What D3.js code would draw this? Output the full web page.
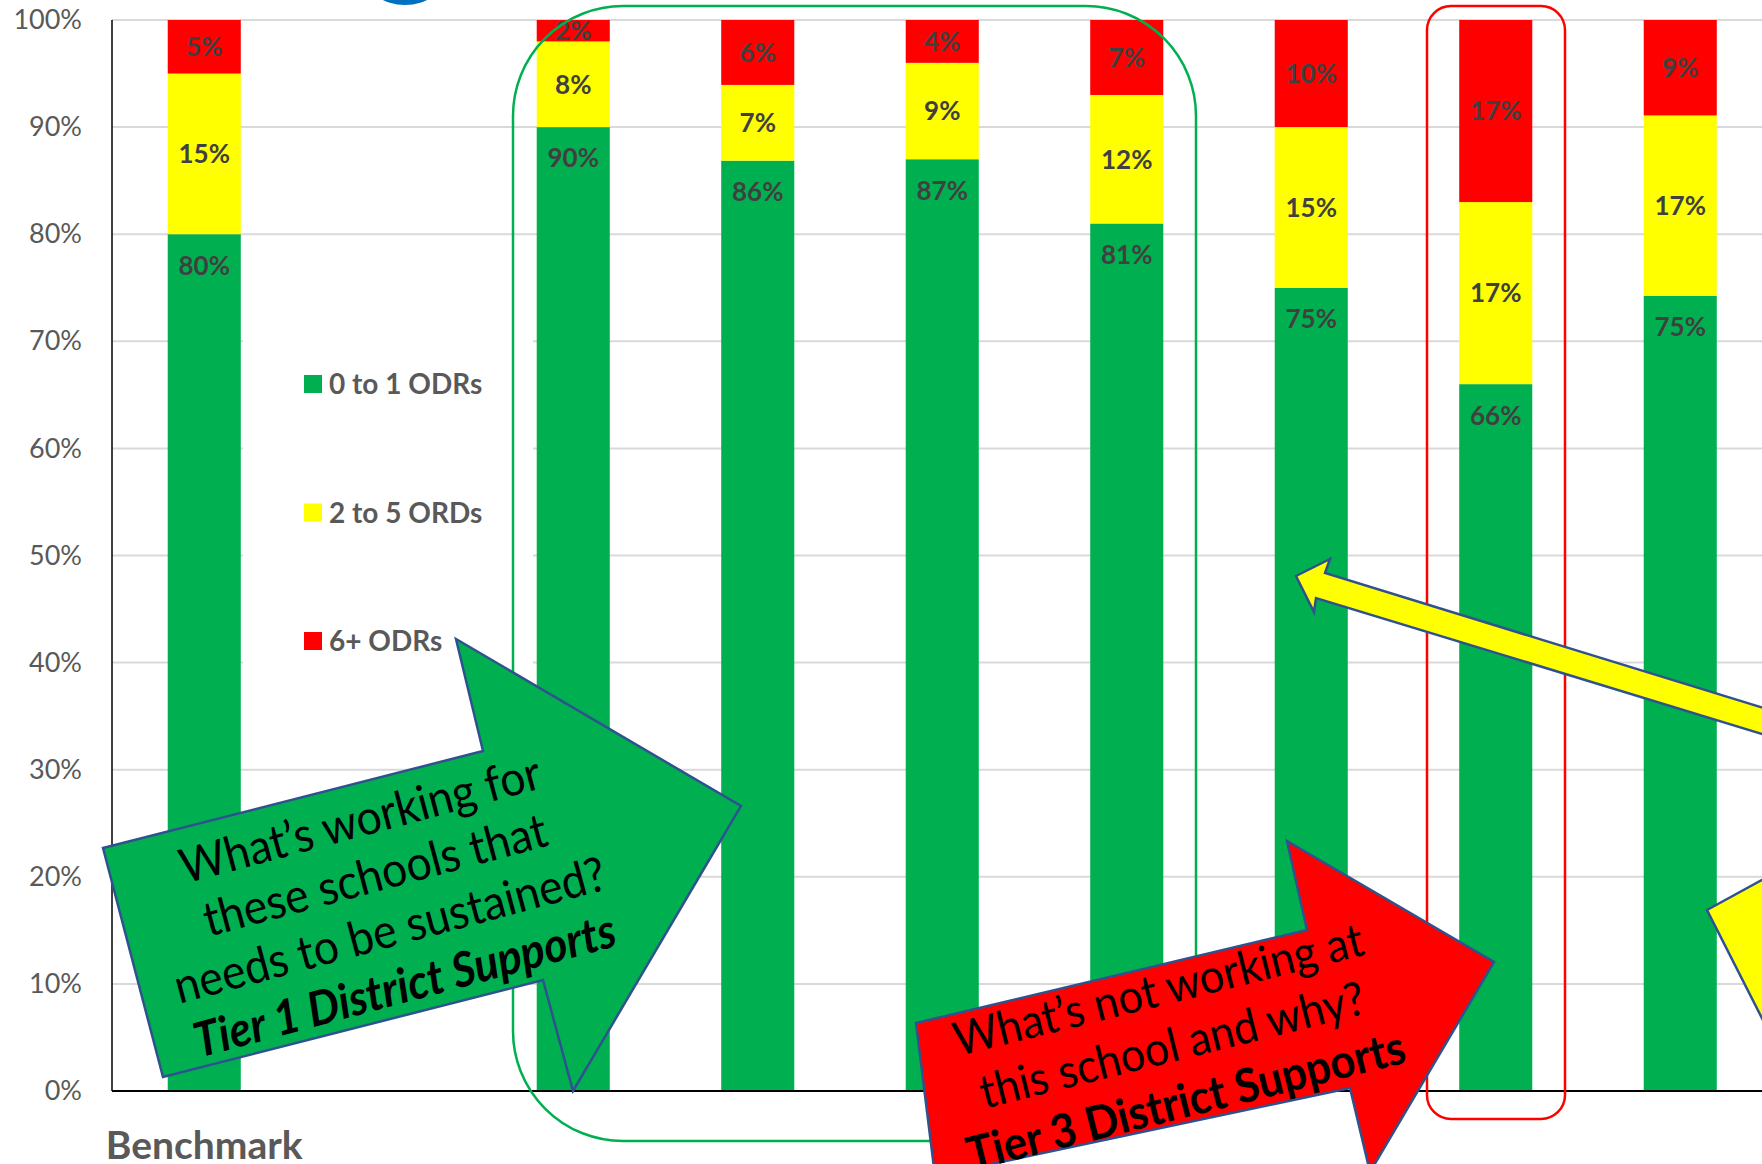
<!DOCTYPE html>
<html>
<head>
<meta charset="utf-8">
<script src="https://cdn.jsdelivr.net/npm/d3@7"></script>
<style>
  html, body { margin: 0; padding: 0; background: #fff; }
  svg { display: block; font-family: Lato, "Open Sans", sans-serif; }
</style>
</head>
<body>
<svg id="chart" width="1762" height="1164"></svg>
<script>
// Office discipline referral (ODR) distribution per school, 100% stacked
const categories = ["Benchmark", "gap", "S1", "S2", "S3", "S4", "S5", "S6", "S7"];
const categoryLabels = ["Benchmark", "", "", "", "", "", "", "", ""];
const seriesKeys = ["low", "mid", "high"];
const seriesNames = ["0 to 1 ODRs", "2 to 5 ORDs", "6+ ODRs"];
const seriesColors = ["#00b050", "#ffff00", "#ff0000"];
const lowPct  = [80, 0, 90, 86, 87, 81, 75, 66, 75];
const midPct  = [15, 0,  8,  7,  9, 12, 15, 17, 17];
const highPct = [ 5, 0,  2,  6,  4,  7, 10, 17,  9];
const yTicks = [0, 0.1, 0.2, 0.3, 0.4, 0.5, 0.6, 0.7, 0.8, 0.9, 1];

const W = 1762, H = 1164;
const plot = { left: 112, top: 20, bottom: 1091, step: 184.5 };

const svg = d3.select("#chart");

const rows = categories.map((c, i) => ({ cat: c, low: lowPct[i], mid: midPct[i], high: highPct[i] }));
const stacked = d3.stack().keys(seriesKeys).offset(d3.stackOffsetExpand)(rows);

const x = d3.scaleBand()
  .domain(categories)
  .range([plot.left, plot.left + plot.step * categories.length])
  .paddingInner(0.604)
  .paddingOuter(0.302);

const y = d3.scaleLinear().domain([0, 1]).range([plot.bottom, plot.top]);

// horizontal gridlines
svg.append("g")
  .selectAll("line")
  .data(yTicks.filter(t => t > 0))
  .join("line")
  .attr("x1", plot.left).attr("x2", W)
  .attr("y1", d => y(d)).attr("y2", d => y(d))
  .attr("stroke", "#d9d9d9").attr("stroke-width", 2);

// legend panel
const legend = svg.append("g");
legend.append("rect")
  .attr("x", 243).attr("y", 300).attr("width", 290).attr("height", 400)
  .attr("fill", "#fff");
const legendItem = legend.selectAll("g.item")
  .data(seriesNames)
  .join("g")
  .attr("class", "item")
  .attr("transform", (d, i) => `translate(304,${384 + i * 128.5})`);
legendItem.append("rect")
  .attr("x", 0).attr("y", -9).attr("width", 18).attr("height", 18)
  .attr("fill", (d, i) => seriesColors[i]);
legendItem.append("text")
  .attr("x", 25).attr("y", 0).attr("dy", "0.36em")
  .attr("font-size", 28).attr("font-weight", 700).attr("fill", "#595959")
  .text(d => d);

// stacked bars
const barLayer = svg.append("g");
stacked.forEach((s, si) => {
  barLayer.append("g")
    .attr("fill", seriesColors[si])
    .selectAll("rect")
    .data(s.filter(d => d[1] > d[0]))
    .join("rect")
    .attr("x", d => x(d.data.cat))
    .attr("width", x.bandwidth())
    .attr("y", d => y(d[1]))
    .attr("height", d => y(d[0]) - y(d[1]));
});

// value labels, clipped to the plot area
svg.append("clipPath").attr("id", "plotClip")
  .append("rect").attr("x", plot.left).attr("y", plot.top)
  .attr("width", W - plot.left).attr("height", plot.bottom - plot.top);
const labelLayer = svg.append("g").attr("clip-path", "url(#plotClip)");
stacked.forEach((s, si) => {
  labelLayer.append("g")
    .selectAll("text")
    .data(s.filter(d => d[1] > d[0]))
    .join("text")
    .attr("x", d => x(d.data.cat) + x.bandwidth() / 2)
    .attr("y", d => si === 0 ? y(d[1]) + 31 : (y(d[0]) + y(d[1])) / 2)
    .attr("dy", "0.36em")
    .attr("text-anchor", "middle")
    .attr("font-size", 26).attr("font-weight", 700).attr("fill", "#404040")
    .text(d => d.data[s.key] + "%");
});

// y axis
const yAxis = svg.append("g")
  .attr("transform", `translate(${plot.left},0)`)
  .call(d3.axisLeft(y).tickValues(yTicks).tickFormat(d3.format(".0%")).tickSize(0).tickPadding(30));
yAxis.select(".domain").remove();
yAxis.selectAll("text").attr("font-size", 27).attr("fill", "#595959").attr("font-family", "Lato, sans-serif");
svg.append("line")
  .attr("x1", plot.left).attr("x2", plot.left)
  .attr("y1", plot.top).attr("y2", plot.bottom)
  .attr("stroke", "#000").attr("stroke-width", 1.5);

// x axis
const xAxis = svg.append("g")
  .attr("transform", `translate(0,${plot.bottom})`)
  .call(d3.axisBottom(x).tickFormat((d, i) => categoryLabels[i]).tickSize(0).tickPadding(40));
xAxis.select(".domain").remove();
xAxis.selectAll("text").attr("font-size", 39).attr("font-weight", 700).attr("fill", "#595959").attr("font-family", "Lato, sans-serif");
svg.append("line")
  .attr("x1", plot.left).attr("x2", W)
  .attr("y1", plot.bottom).attr("y2", plot.bottom)
  .attr("stroke", "#000").attr("stroke-width", 2);

// logo edge at the top
svg.append("ellipse")
  .attr("cx", 405).attr("cy", -25).attr("rx", 40).attr("ry", 30)
  .attr("fill", "#0070c0");

// grouping frames
svg.append("rect")
  .attr("x", 513).attr("y", 6).attr("width", 683).attr("height", 1135)
  .attr("rx", 110).attr("ry", 110)
  .attr("fill", "none").attr("stroke", "#00b050").attr("stroke-width", 2.5);
svg.append("rect")
  .attr("x", 1427).attr("y", 6).attr("width", 138).attr("height", 1113)
  .attr("rx", 24).attr("ry", 24)
  .attr("fill", "none").attr("stroke", "#ff0000").attr("stroke-width", 2.5);

// callout arrows
const line = d3.line();
const outline = "#2f528f";

svg.append("path")
  .attr("d", line([[1296, 576], [1330, 559], [1325, 573], [1900, 750], [1900, 776], [1316, 598], [1314, 612]]) + "Z")
  .attr("fill", "#ffff00").attr("stroke", outline).attr("stroke-width", 2.5);
svg.append("path")
  .attr("d", line([[1707, 910], [1800, 859], [1800, 1093]]) + "Z")
  .attr("fill", "#ffff00").attr("stroke", outline).attr("stroke-width", 2.5);

svg.append("path")
  .attr("d", line([[103, 848], [483, 751], [456, 639], [741, 806], [573, 1091], [543, 980], [163, 1077]]) + "Z")
  .attr("fill", "#00b050").attr("stroke", outline).attr("stroke-width", 2.5);

svg.append("path")
  .attr("d", line([[916, 1023], [1307, 930], [1287, 841], [1494, 962], [1370, 1172], [1350, 1088], [935, 1176]]) + "Z")
  .attr("fill", "#ff0000").attr("stroke", outline).attr("stroke-width", 2.5);

function callout(cx, cy, angle, size, gap, lines) {
  const g = svg.append("g").attr("transform", `translate(${cx},${cy}) rotate(${angle}) scale(1,1.08)`);
  lines.forEach((l, i) => {
    g.append("text")
      .attr("x", 0).attr("y", i * gap).attr("dy", "0.36em")
      .attr("text-anchor", "middle")
      .attr("font-size", size)
      .attr("font-weight", l.bold ? 700 : 400)
      .attr("font-style", l.italic ? "italic" : "normal")
      .attr("fill", "#000")
      .text(l.t);
  });
}
callout(360, 819, -15, 44.5, 53, [
  { t: "What’s working for" },
  { t: "these schools that" },
  { t: "needs to be sustained?" },
  { t: "Tier 1 District Supports", bold: true, italic: true }
]);
callout(1158, 989, -14, 43.5, 53, [
  { t: "What’s not working at" },
  { t: "this school and why?" },
  { t: "Tier 3 District Supports", bold: true }
]);
</script>
</body>
</html>
